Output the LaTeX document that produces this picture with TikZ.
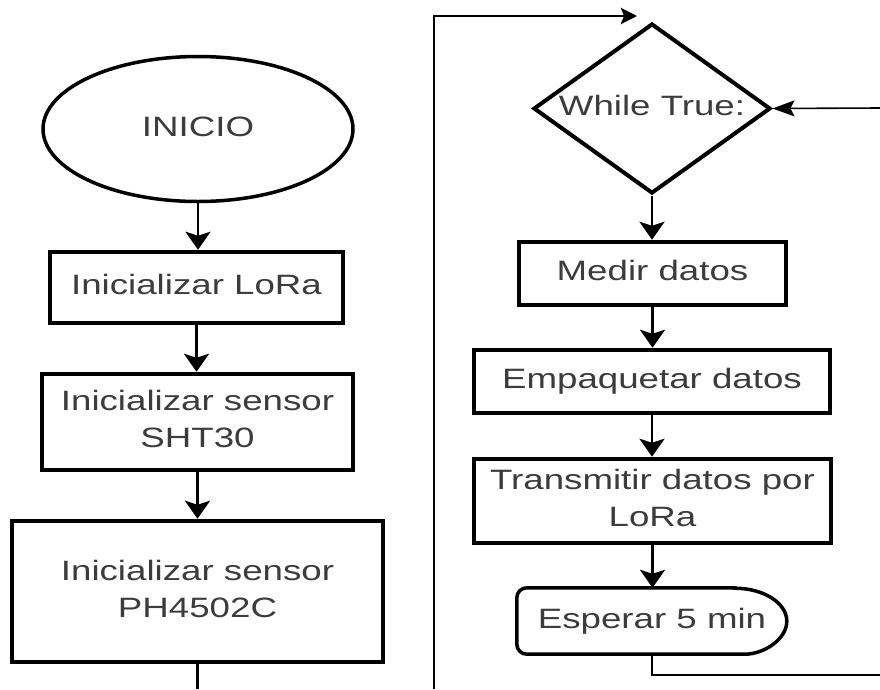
\documentclass[tikz,border=0pt]{standalone}
\usepackage{fontspec}
\setmainfont{Liberation Sans}
\usepackage{graphicx}
\usetikzlibrary{shapes.geometric,arrows.meta}
\definecolor{txt}{RGB}{60,60,60}
\newcommand{\stxt}[1]{\scalebox{1.31}[1]{\begin{tabular}{@{}c@{}}#1\end{tabular}}}
\begin{document}
\begin{tikzpicture}[x=1pt,y=1pt,
  every node/.style={font=\fontsize{28}{37}\selectfont, text=txt, inner sep=0pt},
  box/.style={draw=black, line width=4.5pt, rectangle},
  conn/.style={line width=2.8pt, -{Stealth[length=18pt,width=25pt,inset=4pt]}},
  plain/.style={line width=2.8pt}]
\useasboundingbox (0,0) rectangle (880,-689);
% left column
\node[ellipse, draw=black, line width=3.5pt, minimum width=310, minimum height=145] (ini) at (198,-129) {\stxt{INICIO}};
\node[box, minimum width=293, minimum height=71] (lora) at (196.5,-287.5) {\stxt{Inicializar LoRa}};
\node[box, minimum width=311, minimum height=96] (sht) at (197.5,-422) {\stxt{Inicializar sensor\\SHT30}};
\node[box, minimum width=371, minimum height=141] (ph) at (197.5,-591.5) {\stxt{Inicializar sensor\\PH4502C}};
\coordinate (phout) at (198,-689);
% right column
\node[diamond, draw=black, line width=4pt, minimum width=237, minimum height=170] (wt) at (652,-108.5) {};
\node (wtl) at (652,-108) {\stxt{While True:}};
\node[box, minimum width=267, minimum height=63] (med) at (652.5,-273.5) {\stxt{Medir datos}};
\node[box, minimum width=356, minimum height=63] (emp) at (652,-381.5) {\stxt{Empaquetar datos}};
\node[box, minimum width=357, minimum height=84] (tra) at (652.5,-501) {\stxt{Transmitir datos por\\LoRa}};
\node[minimum width=270, minimum height=66] (esp) at (652,-621) {\stxt{Esperar 5 min}};
\draw[line width=3.5pt, rounded corners=10pt] ([xshift=218pt]esp.north west) -- (esp.north west) -- (esp.south west) -- ([xshift=218pt]esp.south west) [sharp corners] arc[start angle=-90,end angle=90,x radius=52,y radius=33] -- cycle;
\coordinate (loopbot) at (434,-689);
\coordinate (looptip) at (637,-16);
\coordinate (rin) at (880,-108);
\coordinate (espcorner) at (652,-675);
\coordinate (espright) at (880,-675);
% connectors
\draw[conn] (ini.south) -- (ini.south |- lora.north);
\draw[conn] (lora.south) -- (lora.south |- sht.north);
\draw[conn] (sht.south) -- (sht.south |- ph.north);
\draw[plain] (ph.south) -- (ph.south |- phout);
\draw[conn] (wt.south) -- (wt.south |- med.north);
\draw[conn] (med.south) -- (med.south |- emp.north);
\draw[conn] (emp.south) -- (emp.south |- tra.north);
\draw[conn] (tra.south) -- (tra.south |- esp.north);
\draw[line width=2.2pt] (esp.south) -- (espcorner) -- (espright);
\draw[line width=2.8pt, -{Stealth[length=16pt,width=16pt,inset=3pt]}] (loopbot) |- (looptip);
\draw[line width=1.6pt, -{Stealth[length=22pt,width=16pt,inset=4pt]}] (rin) -- (wt.east);
\end{tikzpicture}
\end{document}
